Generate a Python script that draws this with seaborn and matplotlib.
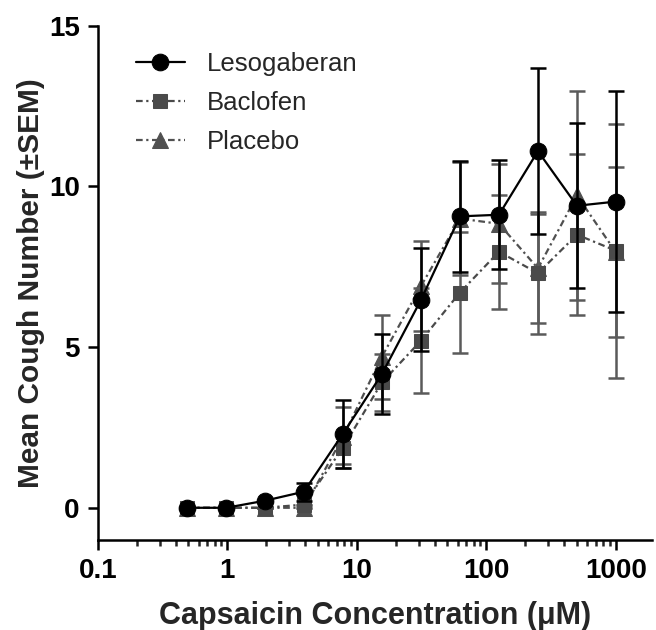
import matplotlib
matplotlib.use("Agg")
import matplotlib.pyplot as plt
import matplotlib.ticker as mticker
import seaborn as sns
import numpy as np

# capsaicin doubling concentrations (uM)
conc = [0.49, 0.98, 1.95, 3.9, 7.8, 15.6, 31.25, 62.5, 125, 250, 500, 1000]

leso_mean = [0, 0, 0.22, 0.5, 2.3, 4.16, 6.47, 9.07, 9.12, 11.1, 9.4, 9.53]
leso_sem = [0, 0, 0, 0.28, 1.05, 1.25, 1.6, 1.72, 1.7, 2.58, 2.57, 3.45]

bac_mean = [0, 0, 0, 0.1, 1.87, 3.9, 5.2, 6.7, 7.97, 7.3, 8.5, 8.0]
bac_sem = [0, 0, 0, 0, 0.5, 0.9, 1.64, 1.87, 1.78, 1.9, 2.5, 3.95]

pla_mean = [0, 0, 0, 0, 2.2, 4.7, 6.9, 9.0, 8.84, 7.45, 9.72, 7.95]
pla_sem = [0, 0, 0, 0, 0.95, 1.3, 1.4, 1.77, 1.85, 1.7, 3.25, 2.65]

sns.set_style("ticks")
plt.rcParams["font.family"] = ["Liberation Sans", "DejaVu Sans"]

fig = plt.figure(figsize=(6.56, 6.3), dpi=100)
ax = fig.add_axes([0.149, 0.143, 0.845, 0.816])

# draw order: placebo, baclofen, lesogaberan on top
series = [
    ("Placebo", pla_mean, pla_sem, "#505050", "^", 11, (3, 1.6, 1, 1.6)),
    ("Baclofen", bac_mean, bac_sem, "#4a4a4a", "s", 10.5, (3, 1.6, 1, 1.6)),
    ("Lesogaberan", leso_mean, leso_sem, "black", "o", 12, None),
]

handles = {}
for name, mean, sem, color, marker, ms, dash in series:
    ax.errorbar(conc, mean, yerr=sem, fmt="none", ecolor=color if color == "black" else "#5a5a5a",
                elinewidth=1.8, capsize=6, capthick=1.8)
    sns.lineplot(x=conc, y=mean, ax=ax, color=color, marker=marker, markersize=ms,
                 markeredgecolor=color, linewidth=1.6, label=name)
    line = ax.lines[-1]
    if dash is not None:
        line.set_dashes(dash)
    handles[name] = line

ax.set_xscale("log")
ax.set_xlim(0.1, 1900)
ax.set_ylim(-1, 15)
ax.set_yticks([0, 5, 10, 15])
ax.set_xticks([0.1, 1, 10, 100, 1000])
ax.xaxis.set_major_formatter(mticker.FixedFormatter(["0.1", "1", "10", "100", "1000"]))
ax.xaxis.set_minor_locator(mticker.LogLocator(base=10, subs=np.arange(2, 10), numticks=20))
ax.xaxis.set_minor_formatter(mticker.NullFormatter())

for s in ["top", "right"]:
    ax.spines[s].set_visible(False)
for s in ["left", "bottom"]:
    ax.spines[s].set_linewidth(1.8)
    ax.spines[s].set_color("black")

ax.tick_params(axis="both", which="major", length=7, width=1.8, direction="out",
               labelsize=20, colors="black", pad=6)
ax.tick_params(axis="x", which="minor", length=4, width=1.8, direction="out")
for lab in ax.get_xticklabels() + ax.get_yticklabels():
    lab.set_fontweight("bold")

ax.set_xlabel("Capsaicin Concentration (μM)", fontsize=22, fontweight="bold", labelpad=12)
ax.set_ylabel("Mean Cough Number (±SEM)", fontsize=21.5, fontweight="bold", labelpad=3)

order = ["Lesogaberan", "Baclofen", "Placebo"]
ax.legend([handles[n] for n in order], order, loc="upper left", bbox_to_anchor=(0.027, 0.995),
          frameon=False, fontsize=18.5, handlelength=1.9, labelspacing=0.6, handletextpad=0.85)

fig.savefig("out.png", dpi=100)
